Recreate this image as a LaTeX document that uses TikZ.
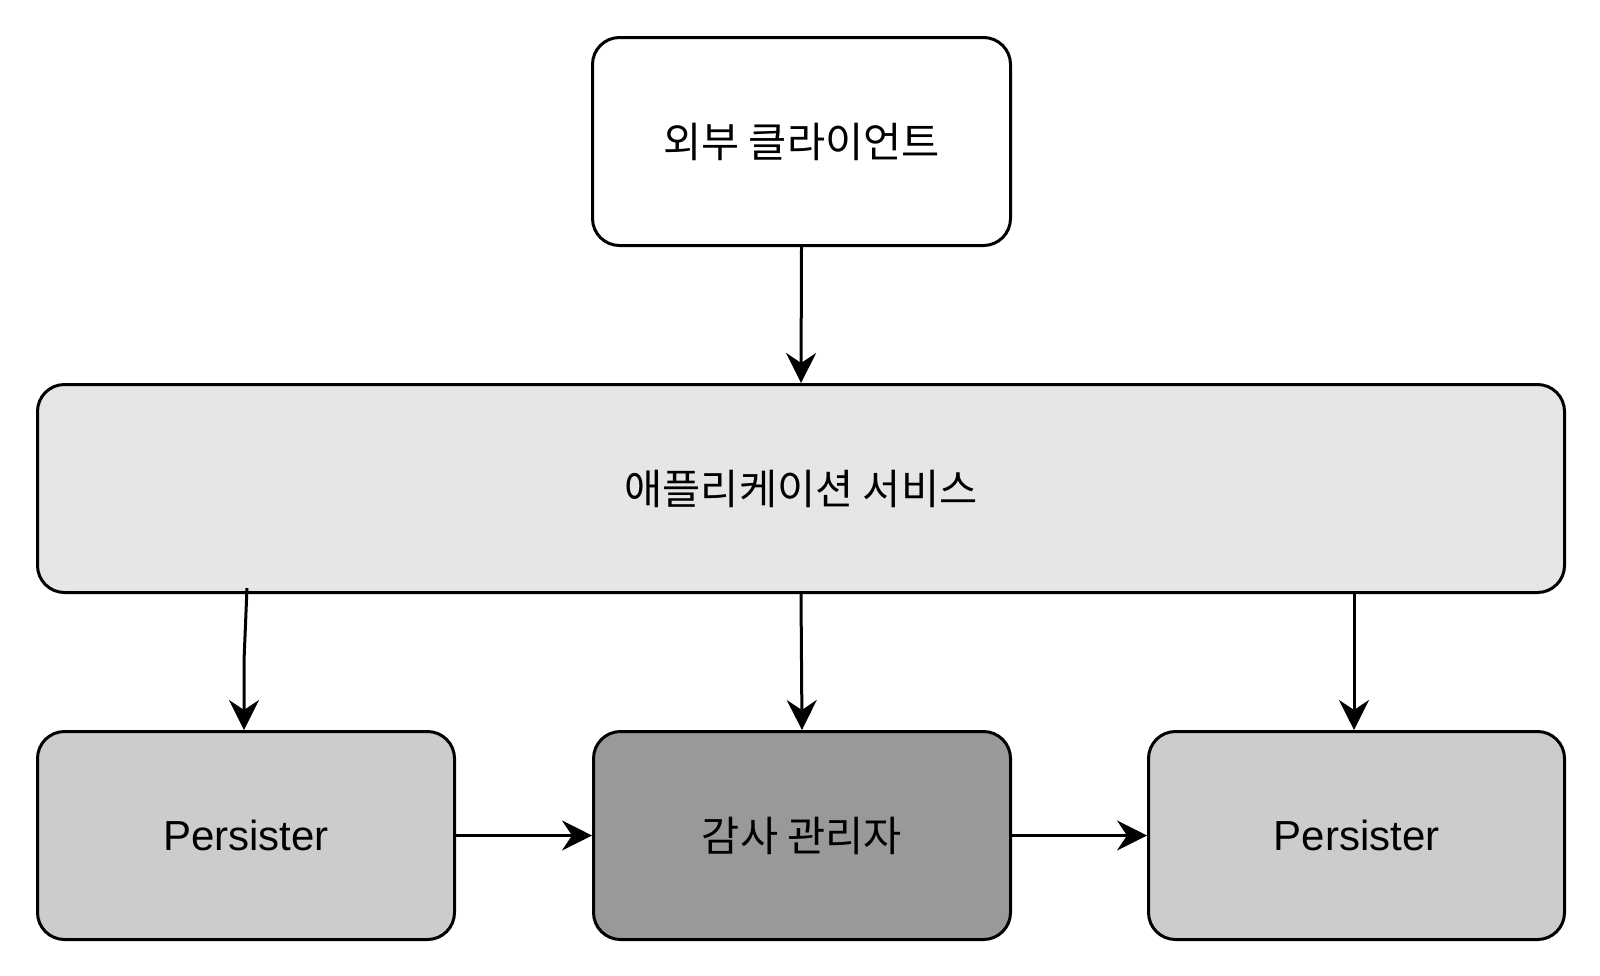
\documentclass[tikz,border=0pt]{standalone}
\usepackage{fontspec}
\setmainfont{Liberation Sans}
\newfontfamily\kr{Noto Sans CJK KR}
\usetikzlibrary{arrows.meta}
\begin{document}
\begin{tikzpicture}[x=1pt,y=-1pt,
  box/.style={draw=black,line width=3pt,rounded corners=27pt,inner sep=0pt,anchor=north west},
  conn/.style={line width=3pt,-{Stealth[length=30pt,width=30pt,inset=10pt]}},
  lbl/.style={font=\fontsize{42pt}{48pt}\selectfont},
  krlbl/.style={font=\kr\fontsize{41.5pt}{48pt}\selectfont}]
\useasboundingbox (0,0) rectangle (1600,975);
\node[box,fill=white,minimum width=418pt,minimum height=208pt] (client) at (591,36) {};
\node[krlbl] at (client.center) {외부 클라이언트};
\node[box,fill={rgb,255:red,230;green,230;blue,230},minimum width=1527pt,minimum height=208pt] (app) at (36,383) {};
\node[krlbl] at (app.center) {애플리케이션 서비스};
\node[box,fill={rgb,255:red,204;green,204;blue,204},minimum width=417pt,minimum height=208pt] (p1) at (36,730) {};
\node[lbl] at (p1.center) {Persister};
\node[box,fill={rgb,255:red,153;green,153;blue,153},minimum width=417pt,minimum height=208pt] (audit) at (592,730) {};
\node[krlbl] at (audit.center) {감사 관리자};
\node[box,fill={rgb,255:red,204;green,204;blue,204},minimum width=416pt,minimum height=208pt] (p2) at (1147,730) {};
\node[lbl] at (p2.center) {Persister};
\coordinate (a1) at (247,588);
\draw[conn] (client.south) -- (app.north);
\draw[conn] (a1) -- (244,661) -- (p1.north -| 244,0);
\draw[conn] (app.south) -- (audit.north);
\draw[conn] (app.south -| 1354,0) -- (p2.north -| 1354,0);
\draw[conn] (p1.east) -- (audit.west);
\draw[conn] (audit.east) -- (p2.west);
\end{tikzpicture}
\end{document}
